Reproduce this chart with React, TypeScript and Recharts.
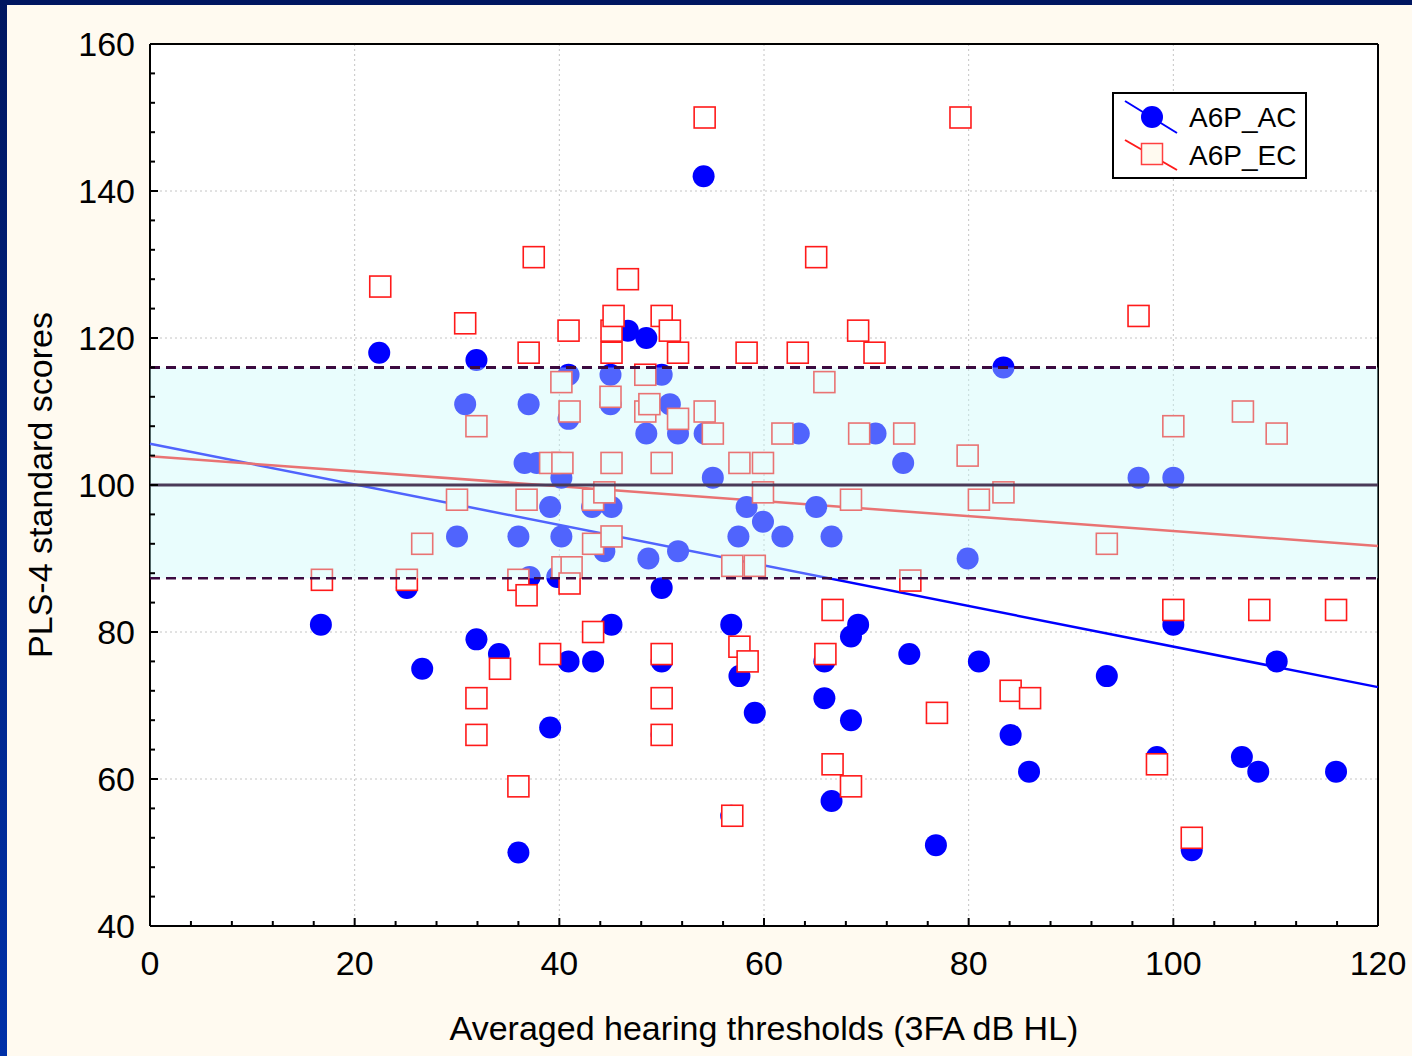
import React from 'react';
import { ScatterChart, Scatter, XAxis, YAxis, ReferenceArea, ReferenceLine, Legend, Label } from 'recharts';

// A6P_AC: averaged hearing threshold (x) and PLS-4 score (y)
const acHearing = [
  16.7, 22.4, 30.8, 30, 31.9, 31.9, 34.1, 25.1, 26.6, 36, 36, 37, 36.6, 37.8, 37.1, 39.1, 39.1, 40.2, 40.2, 40.9,
  40.9, 40.9, 39.8, 43.3, 43.2, 44.4, 45, 45, 45.1, 45.1, 46.7, 48.5, 48.5, 48.7, 50, 50, 50, 50, 50.8, 51.6,
  51.6, 54.1, 54.2, 55, 56.8, 57.6, 59.1, 57.5, 58.3, 59.9, 61.8, 63.4, 65.1, 66.6, 65.9, 65.9, 68.5, 66.6, 69.2, 68.5,
  70.9, 73.6, 74.2, 76.8, 79.9, 81, 83.4, 84.1, 85.9, 93.5, 96.6, 100, 100, 98.4, 101.8, 106.7, 108.3, 110.1, 115.9, 56.8,
];
const acScores = [
  81, 118, 111, 93, 117, 79, 77, 86, 75, 93, 50, 111, 103, 103, 87.5, 67, 97, 93, 101, 115,
  109, 76, 87.5, 76, 97, 91, 115, 111, 97, 81, 121, 120, 107, 90, 115, 86, 76, 66, 111, 107,
  91, 142, 107, 101, 81, 74, 69, 93, 97, 95, 93, 107, 97, 93, 76, 71, 68, 57, 81, 79.4,
  107, 103, 77, 51, 90, 76, 116, 66, 61, 74, 101, 101, 81, 63, 50.3, 63, 61, 76, 61, 55,
];

// A6P_EC
const ecHearing = [
  16.8, 22.5, 25.1, 26.6, 30, 30.8, 31.9, 31.9, 31.9, 34.2, 36, 36, 36.8, 36.8, 37, 37.5, 39.1, 39.1, 40.2, 40.3,
  40.3, 41.2, 41, 41, 40.9, 43.3, 43.3, 43.3, 44.4, 45.1, 45.1, 45, 45.1, 45.1, 45.3, 46.7, 48.4, 48.4, 48.8, 50,
  50.8, 51.6, 51.6, 50, 50, 50, 50, 54.2, 54.2, 55, 56.9, 56.9, 57.6, 57.6, 58.3, 58.4, 59.1, 59.9, 59.9, 61.8,
  63.3, 65.1, 65.9, 66, 66.7, 66.7, 68.5, 68.5, 69.2, 69.3, 70.8, 73.7, 74.3, 76.9, 79.2, 79.9, 81, 83.4, 84.1, 86,
  93.5, 96.6, 98.4, 100, 100, 101.8, 106.8, 108.4, 110.1, 115.9,
];
const ecScores = [
  87.1, 127, 87.1, 92, 98, 122, 108, 71, 66, 75, 87.1, 59, 98, 85, 118, 131, 103, 77, 114, 103,
  88.8, 88.8, 86.6, 110, 121, 98, 92, 80, 99, 93, 103, 112, 118, 121, 123, 128, 115, 110, 111, 123,
  121, 118, 109, 103, 77, 71, 66, 150, 110, 107, 89, 55, 103, 78, 118, 76, 89, 103, 99, 107,
  118, 131, 114, 77, 83, 62, 98, 59, 121, 107, 118, 107, 87, 69, 150, 104, 98, 99, 72, 71,
  92, 123, 62, 108, 83, 52, 110, 83, 107, 83,
];

// fitted regression lines (endpoints)
const fitHearing = [0, 120];
const acFitScores = [105.6, 72.5];
const ecFitScores = [103.9, 91.7];

// normal range band and mean
const normalLow = 87.3;
const normalHigh = 116;
const normalMean = 100;

const xTicks = [0, 4, 8, 12, 16, 20, 24, 28, 32, 36, 40, 44, 48, 52, 56, 60, 64, 68, 72, 76, 80, 84, 88, 92, 96, 100, 104, 108, 112, 116, 120];
const yTicks = [40, 44, 48, 52, 56, 60, 64, 68, 72, 76, 80, 84, 88, 92, 96, 100, 104, 108, 112, 116, 120, 124, 128, 132, 136, 140, 144, 148, 152, 156, 160];
const xGrid = [20, 40, 60, 80, 100];
const yGrid = [60, 80, 120, 140];

const acData = acHearing.map((x, i) => ({ x, y: acScores[i] }));
const ecData = ecHearing.map((x, i) => ({ x, y: ecScores[i] }));
const acFit = fitHearing.map((x, i) => ({ x, y: acFitScores[i] }));
const ecFit = fitHearing.map((x, i) => ({ x, y: ecFitScores[i] }));

const FONT = "'Liberation Sans', Arial, sans-serif";
const isMajor = (v: number) => v % 20 === 0;

const BottomTick = ({ x, y, payload }: any) => (
  <g>
    <line x1={x} y1={y} x2={x} y2={y - (isMajor(payload.value) ? 8 : 5)} stroke="#000" strokeWidth={2} />
    {isMajor(payload.value) && (
      <text x={x} y={y + 49} textAnchor="middle" fontSize={34} fontFamily={FONT} fill="#000">
        {payload.value}
      </text>
    )}
  </g>
);

const LeftTick = ({ x, y, payload }: any) => (
  <g>
    <line x1={x} y1={y} x2={x + (isMajor(payload.value) ? 8 : 5)} y2={y} stroke="#000" strokeWidth={2} />
    {isMajor(payload.value) && (
      <text x={x - 15} y={y + 12} textAnchor="end" fontSize={34} fontFamily={FONT} fill="#000">
        {payload.value}
      </text>
    )}
  </g>
);

const TopTick = ({ x, y, payload }: any) => (
  <line x1={x} y1={y} x2={x} y2={y + (isMajor(payload.value) ? 8 : 5)} stroke="#000" strokeWidth={2} />
);

const RightTick = ({ x, y, payload }: any) => (
  <line x1={x} y1={y} x2={x - (isMajor(payload.value) ? 8 : 5)} y2={y} stroke="#000" strokeWidth={2} />
);

const Dot = ({ cx, cy }: any) => <circle cx={cx} cy={cy} r={11} fill="#0000ff" />;
const Box = ({ cx, cy }: any) => (
  <rect x={cx - 10.5} y={cy - 10.5} width={21} height={21} fill="#ffffff" stroke="#ff1a1a" strokeWidth={1.6} />
);
const NoShape = () => <g />;

const LegendBox = ({ payload }: any) => {
  const items = (payload || []).filter((p: any) => p.value === 'A6P_AC' || p.value === 'A6P_EC');
  return (
    <div style={{ width: 191, height: 83, border: '2px solid #000', background: '#ffffff', position: 'relative' }}>
      <svg width={191} height={83} style={{ position: 'absolute', left: 0, top: 0 }}>
        <line x1={11} y1={7} x2={63} y2={39} stroke="#0000ff" strokeWidth={2} />
        <circle cx={38} cy={23} r={11} fill="#0000ff" />
        <line x1={11} y1={46} x2={63} y2={76} stroke="#ff1a1a" strokeWidth={2} />
        <rect x={27.5} y={49.5} width={21} height={21} fill="#fffaf0" stroke="#ff4040" strokeWidth={1.5} />
        {items.map((p: any, i: number) => (
          <text key={p.value} x={75} y={i === 0 ? 33 : 71} fontSize={28} fontFamily={FONT} fill="#000">
            {p.value}
          </text>
        ))}
      </svg>
    </div>
  );
};

export default function App() {
  return (
    <div
      style={{
        position: 'absolute',
        left: 0,
        top: 0,
        width: 1412,
        height: 1056,
        overflow: 'hidden',
        background: 'linear-gradient(180deg, #001660 0%, #0030a8 100%)',
      }}
    >
      <div style={{ position: 'absolute', left: 7, top: 5, right: 0, bottom: 0, background: '#fffaf0' }} />
      <div style={{ position: 'absolute', left: 0, top: 0 }}>
        <ScatterChart width={1412} height={1056} margin={{ top: 43, right: 33, bottom: 129, left: 149 }}>
          <XAxis
            xAxisId="x"
            type="number"
            dataKey="x"
            domain={[0, 120]}
            ticks={xTicks}
            interval={0}
            height={1}
            tickSize={0}
            tickMargin={0}
            tick={<BottomTick />}
            axisLine={{ stroke: '#000', strokeWidth: 2 }}
          >
            <Label
              content={({ viewBox }: any) => (
                <text
                  x={viewBox.x + viewBox.width / 2}
                  y={viewBox.y + 114}
                  textAnchor="middle"
                  fontSize={34}
                  fontFamily={FONT}
                  fill="#000"
                >
                  Averaged hearing thresholds (3FA dB HL)
                </text>
              )}
            />
          </XAxis>
          <XAxis
            xAxisId="xt"
            orientation="top"
            type="number"
            domain={[0, 120]}
            ticks={xTicks}
            interval={0}
            height={1}
            tickSize={0}
            tickMargin={0}
            tick={<TopTick />}
            axisLine={{ stroke: '#000', strokeWidth: 2 }}
          />
          <YAxis
            yAxisId="y"
            type="number"
            dataKey="y"
            domain={[40, 160]}
            ticks={yTicks}
            interval={0}
            width={1}
            tickSize={0}
            tickMargin={0}
            tick={<LeftTick />}
            axisLine={{ stroke: '#000', strokeWidth: 2 }}
          >
            <Label
              content={({ viewBox }: any) => {
                const cx = viewBox.x - 97;
                const cy = viewBox.y + viewBox.height / 2;
                return (
                  <text
                    x={cx}
                    y={cy}
                    transform={`rotate(-90 ${cx} ${cy})`}
                    textAnchor="middle"
                    fontSize={34}
                    fontFamily={FONT}
                    fill="#000"
                  >
                    PLS-4 standard scores
                  </text>
                );
              }}
            />
          </YAxis>
          <YAxis
            yAxisId="yr"
            orientation="right"
            type="number"
            domain={[40, 160]}
            ticks={yTicks}
            interval={0}
            width={1}
            tickSize={0}
            tickMargin={0}
            tick={<RightTick />}
            axisLine={{ stroke: '#000', strokeWidth: 2 }}
          />

          <ReferenceArea
            xAxisId="x"
            yAxisId="y"
            x1={0}
            x2={120}
            y1={40}
            y2={160}
            fill="#ffffff"
            fillOpacity={1}
            stroke="none"
            zIndex={-150}
          />
          {xGrid.map((v) => (
            <ReferenceLine key={`gx${v}`} xAxisId="x" yAxisId="y" x={v} stroke="#c4c4c4" strokeDasharray="2 3" strokeWidth={1} />
          ))}
          {yGrid.map((v) => (
            <ReferenceLine key={`gy${v}`} xAxisId="x" yAxisId="y" y={v} stroke="#c4c4c4" strokeDasharray="2 3" strokeWidth={1} />
          ))}

          <Scatter
            xAxisId="x"
            yAxisId="y"
            data={acFit}
            line={{ stroke: '#0000ff', strokeWidth: 2.5 }}
            shape={<NoShape />}
            legendType="none"
            isAnimationActive={false}
          />
          <Scatter
            xAxisId="x"
            yAxisId="y"
            data={ecFit}
            line={{ stroke: '#ff1a1a', strokeWidth: 2.5 }}
            shape={<NoShape />}
            legendType="none"
            isAnimationActive={false}
          />
          <Scatter name="A6P_AC" xAxisId="x" yAxisId="y" data={acData} fill="#0000ff" shape={<Dot />} isAnimationActive={false} />
          <Scatter name="A6P_EC" xAxisId="x" yAxisId="y" data={ecData} fill="#ff1a1a" shape={<Box />} isAnimationActive={false} />

          <ReferenceArea
            xAxisId="x"
            yAxisId="y"
            x1={0}
            x2={120}
            y1={normalLow}
            y2={normalHigh}
            fill="rgb(200,250,250)"
            fillOpacity={0.4}
            stroke="none"
            zIndex={700}
          />
          <ReferenceLine xAxisId="x" yAxisId="y" y={normalHigh} stroke="#3c0a40" strokeWidth={3} strokeDasharray="10 6" zIndex={710} />
          <ReferenceLine xAxisId="x" yAxisId="y" y={normalLow} stroke="#3c0a40" strokeWidth={2.5} strokeDasharray="10 6" zIndex={710} />
          <ReferenceLine xAxisId="x" yAxisId="y" y={normalMean} stroke="#4a3a58" strokeWidth={3} zIndex={710} />

          <Legend
            layout="vertical"
            align="center"
            verticalAlign="middle"
            content={<LegendBox />}
            wrapperStyle={{ position: 'absolute', left: 1112, top: 92, width: 195, height: 87 }}
          />
        </ScatterChart>
      </div>
    </div>
  );
}
